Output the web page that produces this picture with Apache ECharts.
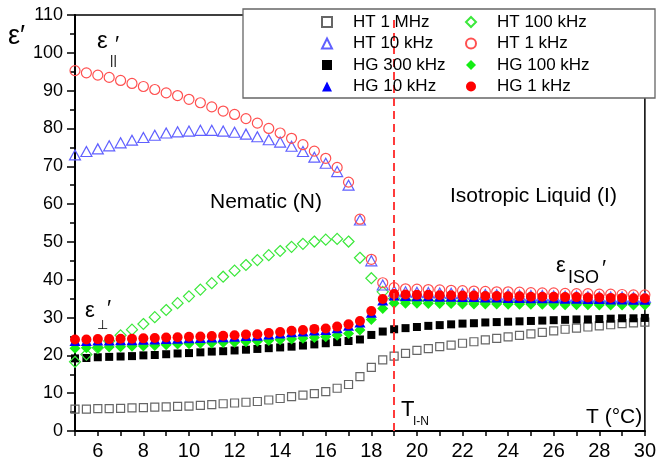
<!DOCTYPE html>
<html><head><meta charset="utf-8">
<script src="https://cdn.jsdelivr.net/npm/echarts@6/dist/echarts.min.js"></script>
<style>html,body{margin:0;padding:0;background:#fff}#c{width:659px;height:466px}</style>
</head><body><div id="c"></div>
<script>
// Temperature (°C)
const temps = [5,5.5,6,6.5,7,7.5,8,8.5,9,9.5,10,10.5,11,11.5,12,12.5,13,13.5,14,14.5,15,15.5,16,16.5,17,17.5,18,18.5,19,19.5,20,20.5,21,21.5,22,22.5,23,23.5,24,24.5,25,25.5,26,26.5,27,27.5,28,28.5,29,29.5,30];
// HT series
const ht1MHz = [5.8,5.8,5.9,5.9,6.0,6.1,6.2,6.3,6.4,6.5,6.6,6.8,7.0,7.2,7.4,7.6,7.8,8.2,8.6,9.1,9.5,9.9,10.4,11.3,12.3,14.4,16.8,18.8,19.8,20.5,21.3,21.8,22.3,22.7,23.2,23.6,24.1,24.5,24.9,25.3,25.7,26.1,26.5,26.9,27.2,27.5,27.8,28.1,28.4,28.6,28.8];
const ht10kHz = [73.0,73.9,74.6,75.4,76.2,76.9,77.6,78.2,78.8,79.1,79.3,79.5,79.5,79.3,79.0,78.5,77.8,77.0,76.4,75.3,73.9,72.4,70.8,68.6,65.0,55.8,45.0,38.6,37.0,36.8,36.7,36.6,36.5,36.4,36.3,36.2,36.1,36.0,36.0,35.9,35.8,35.8,35.7,35.6,35.6,35.5,35.5,35.4,35.4,35.3,35.3];
const ht100kHz = [18.3,20.2,22.0,23.8,25.3,26.8,28.3,30.1,32.0,33.8,35.6,37.4,39.1,40.8,42.4,43.9,45.2,46.5,47.6,48.7,49.5,50.1,50.6,50.8,50.1,45.8,40.4,36.8,35.0,34.6,34.5,34.4,34.4,34.3,34.3,34.2,34.2,34.2,34.1,34.1,34.1,34.0,34.0,34.0,34.0,33.9,33.9,33.9,33.9,33.8,33.8];
const ht1kHz = [95.3,94.7,94.1,93.5,92.7,91.9,91.1,90.3,89.4,88.7,87.7,86.8,85.7,84.6,83.7,82.6,81.4,80.0,78.8,77.4,75.7,74.0,72.1,69.7,65.8,56.0,45.4,39.2,37.9,37.6,37.5,37.4,37.3,37.2,37.1,37.0,36.9,36.8,36.8,36.7,36.6,36.5,36.5,36.4,36.3,36.3,36.2,36.2,36.1,36.0,36.0];
// HG series
const hg300kHz = [19.2,19.3,19.5,19.6,19.7,19.8,20.0,20.1,20.3,20.5,20.6,20.8,21.0,21.1,21.3,21.5,21.7,21.9,22.1,22.3,22.6,22.9,23.2,23.5,23.8,24.2,25.4,26.3,26.9,27.2,27.5,27.8,28.0,28.2,28.4,28.5,28.7,28.8,28.9,29.0,29.1,29.2,29.3,29.4,29.5,29.5,29.6,29.7,29.8,29.8,29.9];
const hg100kHz = [21.9,22.0,22.1,22.2,22.3,22.4,22.5,22.6,22.8,23.0,23.1,23.2,23.3,23.4,23.5,23.6,23.7,23.9,24.1,24.3,24.5,24.7,24.9,25.3,25.8,26.7,29.5,32.4,33.8,33.8,33.8,33.7,33.7,33.7,33.6,33.6,33.6,33.6,33.5,33.5,33.5,33.5,33.4,33.4,33.4,33.4,33.3,33.3,33.3,33.3,33.3];
const hg10kHz = [23.8,23.8,23.9,23.9,24.0,24.0,24.1,24.2,24.3,24.4,24.5,24.6,24.7,24.8,24.9,25.1,25.2,25.5,25.8,26.1,26.3,26.6,26.7,27.2,27.8,28.7,31.3,34.5,35.8,35.7,35.6,35.6,35.5,35.5,35.4,35.4,35.3,35.3,35.2,35.2,35.1,35.1,35.1,35.0,35.0,34.9,34.9,34.8,34.8,34.7,34.7];
const hg1kHz = [24.2,24.2,24.3,24.3,24.4,24.4,24.5,24.6,24.7,24.8,24.9,25.0,25.1,25.2,25.3,25.5,25.6,25.9,26.2,26.5,26.7,27.0,27.1,27.6,28.2,29.1,31.7,34.9,36.2,36.1,36.0,36.0,35.9,35.9,35.8,35.8,35.7,35.7,35.6,35.6,35.5,35.5,35.5,35.4,35.4,35.3,35.3,35.2,35.2,35.1,35.1];
// axis tick labels
const xTickLabels = [6,8,10,12,14,16,18,20,22,24,26,28,30];
const transitionT = 19;
const legendCol1 = ['HT 1 MHz','HT 10 kHz','HG 300 kHz','HG 10 kHz'];
const legendCol2 = ['HT 100 kHz','HT 1 kHz','HG 100 kHz','HG 1 kHz'];

const FONT = "'Liberation Sans', Arial, sans-serif";
const CLEAR = 'rgba(0,0,0,0)';
function mk(name, vals, symbol, size, fill, stroke, z, extra) {
  const open = fill === CLEAR;
  return Object.assign({
    name, type: 'scatter', data: temps.map((t, i) => [t, vals[i]]),
    symbol, symbolSize: size, z,
    itemStyle: { color: fill, borderColor: stroke, borderWidth: open ? 1.2 : 0, opacity: 1 },
    emphasis: { disabled: true }, silent: true
  }, extra || {});
}

const chart = echarts.init(document.getElementById('c'), null, { renderer: 'canvas' });
const legendCommon = {
  orient: 'vertical', top: 12, itemWidth: 10, itemHeight: 10, itemGap: 1.5, padding: 0,
  selectedMode: false, z: 10,
  textStyle: { fontSize: 17, lineHeight: 20, fontFamily: FONT, color: '#000', padding: [0, 0, 0, 16] }
};
function txt(x, y, s, size, extra) {
  return Object.assign({ type: 'text', x, y, z: 20,
    style: { text: s, font: size + 'px ' + FONT, fill: '#000', verticalAlign: 'middle', align: 'left' } }, extra || {});
}

chart.setOption({
  animation: false,
  backgroundColor: '#fff',
  grid: { left: 75, right: 10, top: 15, bottom: 35, show: true, borderColor: '#000', borderWidth: 1.5 },
  xAxis: {
    type: 'value', min: 5, max: 30, interval: 1,
    axisLine: { lineStyle: { color: '#000', width: 2 } },
    axisTick: { length: 5, lineStyle: { color: '#000', width: 1.5 } },
    axisLabel: { fontSize: 20, margin: 10, color: '#000', fontFamily: FONT,
      formatter: v => xTickLabels.indexOf(v) >= 0 ? String(v) : '' },
    splitLine: { show: false }
  },
  yAxis: {
    type: 'value', min: 0, max: 110, interval: 10,
    axisLine: { show: true, lineStyle: { color: '#000', width: 2 } },
    axisTick: { show: true, length: 8, lineStyle: { color: '#000', width: 1.5 } },
    minorTick: { show: true, splitNumber: 2, length: 5, lineStyle: { color: '#000', width: 1.5 } },
    axisLabel: { fontSize: 18, margin: 12, color: '#000', fontFamily: FONT },
    splitLine: { show: false }
  },
  legend: [
    Object.assign({ data: legendCol1, left: 321 }, legendCommon),
    Object.assign({ data: legendCol2, left: 465 }, legendCommon)
  ],
  series: [
    mk('HT 1 MHz', ht1MHz, 'rect', 8, CLEAR, '#666', 2, {
      markLine: { silent: true, symbol: ['none', 'none'], label: { show: false },
        lineStyle: { color: '#ff3b3b', width: 2, type: [8, 5] }, data: [{ xAxis: transitionT }] }
    }),
    mk('HG 300 kHz', hg300kHz, 'rect', 8, '#000', '#000', 2),
    mk('HT 100 kHz', ht100kHz, 'diamond', 11, CLEAR, '#3ce83c', 2),
    mk('HT 10 kHz', ht10kHz, 'triangle', [11, 10], CLEAR, '#6060ff', 2),
    mk('HT 1 kHz', ht1kHz, 'circle', 10, CLEAR, '#ff5050', 2),
    mk('HG 100 kHz', hg100kHz, 'diamond', 11, '#14ee14', '#14ee14', 2),
    mk('HG 10 kHz', hg10kHz, 'triangle', [11, 10], '#0000ff', '#0000ff', 2),
    mk('HG 1 kHz', hg1kHz, 'circle', 10, '#ff0000', '#ff0000', 2)
  ],
  graphic: [
    { type: 'rect', z: 5, shape: { x: 243, y: 9, width: 412, height: 89 },
      style: { fill: '#fff', stroke: '#666', lineWidth: 1.3 } },
    txt(8, 37, 'ε′', 27),
    txt(97, 41.5, 'ε', 24), txt(110, 60, '||', 13), txt(115, 45, '′', 22),
    txt(85, 310.5, 'ε', 22), txt(97, 325, '⊥', 13), txt(107, 309, '′', 22),
    txt(556, 265.5, 'ε', 22), txt(568, 278.5, 'ISO', 18), txt(602, 269, '′', 22),
    txt(401, 410, 'T', 22), txt(413, 421.5, 'I-N', 12),
    txt(586, 417, 'T (°C)', 21),
    txt(210, 202, 'Nematic (N)', 21),
    txt(450, 196.5, 'Isotropic Liquid (I)', 21)
  ]
});
</script></body></html>
